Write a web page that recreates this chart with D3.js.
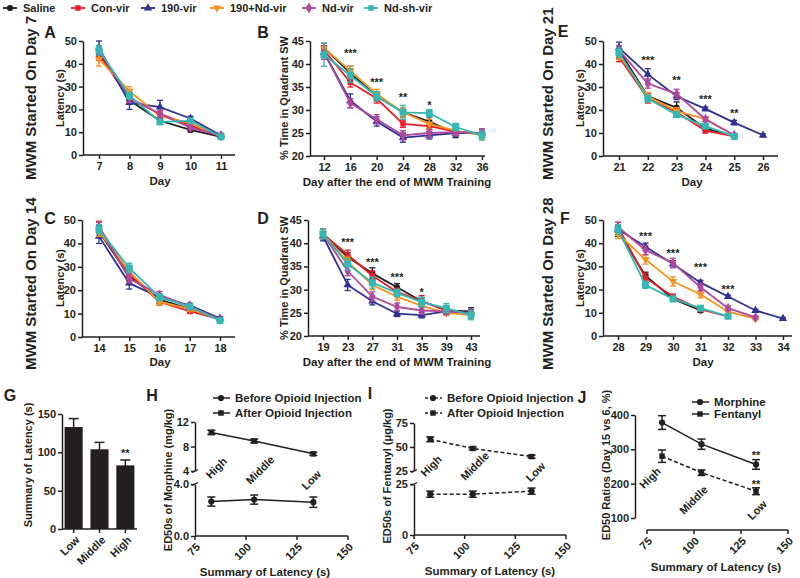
<!DOCTYPE html>
<html><head><meta charset="utf-8">
<script src="https://cdn.jsdelivr.net/npm/d3@7"></script>
<style>
body{margin:0;background:#fff;}
svg text{font-family:"Liberation Sans",Arial,Helvetica,sans-serif;font-weight:bold;fill:#231f20;}
</style></head><body><svg id="c" width="800" height="578"></svg>
<script>
// ---------- DATA ----------
const seriesNames = ["Saline","Con-vir","190-vir","190+Nd-vir","Nd-vir","Nd-sh-vir"];
const seriesColors = ["#231f20","#ed1c24","#2e3192","#f7941d","#b2469d","#33b8b3"];
const seriesShapes = ["circle","square","triangle","triangleDown","diamond","bigSquare"];

// Panel A : MWM started on day 7
const daysA = [7,8,9,10,11];
const latencyA = [[45,24,15,11,8],[44,25,18,13,8],[47,23,21,16,8.5],[42,28,17,14,8],[46,25,18,12,8.5],[46,26,14.5,15,8]];
const errA = [[2,1.5,1,0.8,0.6],[2.5,2,1.5,1,0.8],[3,3,3,1,1],[3,2,1.5,1,0.8],[2,2,1.5,1,0.8],[2,1.5,1,1,0.8]];
// Panel B
const daysB = [12,16,20,24,28,32,36];
const timeB = [[43.5,38,33,29.5,27.5,25,25],[43,36,32.5,27,26.5,25.3,24.8],[42.5,32,27.5,24,24.5,25,25],[43.5,38.5,33.5,29.5,27,25.5,24.5],[42.5,31.5,28,24.5,25,25.2,25],[42,37.5,33,29.5,29.3,26.3,24.5]];
const errB = [[1,1.5,1,1,1,1,0.8],[1,1,1,0.8,0.8,0.8,0.8],[1.5,1.5,1,1,0.8,0.8,0.8],[1,1,1,1,1,0.8,1],[1.5,1,1,1,0.8,0.8,0.8],[2.5,1.5,1,1.5,0.8,0.8,1]];
const starsB = [[16,"***",42.4],[20,"***",36],[24,"**",32.8],[28,"*",31]];
// Panel C : day 14
const daysC = [14,15,16,17,18];
const latencyC = [[45,26,16,12,7.5],[47,27,15,11,7.5],[43,23,17,13.5,8],[45,28,15,12,7.5],[47,25,18,13,7.5],[46,29.5,17,13,7]];
const errC = [[2,2,1.5,1,0.6],[2.5,2,1.5,1,0.6],[3,2.5,1.5,1,0.6],[2,2,1.5,1,0.6],[2,2,1.5,1,0.6],[2,2,1.5,1,0.6]];
// Panel D
const daysD = [19,23,27,31,35,39,43];
const timeD = [[42,37,33.5,30.5,27.5,25.5,25.3],[42,37.5,33,29.5,27.5,25.5,24.8],[41.5,31,27.5,24.8,24.5,25.3,25],[42,36,31,28.5,26.5,25,24.5],[42,34,28.5,26.3,25.5,25.3,25],[42,35.5,31.5,29.3,27.3,26,24.5]];
const errD = [[1,1,1.2,0.8,0.8,0.8,0.8],[1,1,1,0.8,1.2,0.8,0.8],[1,1.2,0.8,0.6,0.6,0.6,0.6],[1,1,1,0.8,0.8,0.6,0.8],[1,1,1,0.8,0.8,0.6,0.6],[1,1.2,1.2,0.8,1,1,1]];
const starsD = [[23,"***",40.3],[27,"***",36],[31,"***",32.7],[35,"*",29.5]];
// Panel E : day 21
const daysE = [21,22,23,24,25,26];
const latencyE = [[46,26,21,12,8.5,null],[43,25,19,11,8.5,null],[47,35.5,26,20.5,14.5,9],[44,26,19.5,16,9,null],[46,31.5,27,16,9,null],[45,25,18,13,8.5,null]];
const errE = [[2,1.5,2.5,1,0.8,0],[2,2,1.5,1,0.8,0],[2.5,2.5,1.5,0.8,1,0.6],[2,1.5,1.5,1,0.8,0],[2,2,2,1,0.8,0],[2,1.5,1,1,0.8,0]];
const starsE = [[22,"***",41.7],[23,"**",33],[24,"***",24.8],[25,"**",18.7]];
// Panel F : day 28
const daysF = [28,29,30,31,32,33,34];
const latencyF = [[45,26,16,11,null,null,null],[47,25,17,11.5,8.5,null,null],[46,38.5,31,23,17,11,7.5],[44,33,23.5,18,10.5,7.5,null],[47,37,31.5,21,12,8,null],[46,22,16,12,8.5,null,null]];
const errF = [[2,1.5,1,0.8,0,0,0],[2,2,1,1,0.8,0,0],[2,1.5,1.5,1,0.6,0.5,0.5],[2,2,2,1.5,1,0.6,0],[2,2,2,1.5,1,0.6,0],[2,1.5,1.2,1,0.8,0,0]];
const starsF = [[29,"***",43],[30,"***",35.8],[31,"***",29.7],[32,"***",20.3]];

// Panel G-J
const groupsG = ["Low","Middle","High"];
const summaryG = [133,104,83];
const summaryErrG = [11,9,7];
const groupsHIJ = ["High","Middle","Low"];
const latencyHIJ = [83,104,133];
const morphineBefore = [2.65,2.8,2.6], morphineBeforeErr = [0.35,0.35,0.4];
const morphineAfter = [10.3,8.9,6.8], morphineAfterErr = [0.35,0.3,0.25];
const fentanylBefore = [20,20,21.5], fentanylBeforeErr = [1.5,1.5,1.5];
const fentanylAfter = [58,48.5,40], fentanylAfterErr = [2.5,1.5,1.5];
const ratioMorphine = [378,315,256], ratioMorphineErr = [20,15,14];
const ratioFentanyl = [280,232,178], ratioFentanylErr = [18,8,10];
const xTicksHIJ = [75,100,125,150];

// ---------- DRAWING ----------
const svg = d3.select("#c");
const INK = "#231f20";

function styleAxis(g){
  g.selectAll("path,line").attr("stroke",INK).attr("stroke-width",1.5);
  g.selectAll("text").attr("font-size",11).attr("fill",INK);
}
function sym(shape){
  if(shape==="circle") return d3.symbol().type(d3.symbolCircle).size(30)();
  if(shape==="square") return d3.symbol().type(d3.symbolSquare).size(30)();
  if(shape==="bigSquare") return d3.symbol().type(d3.symbolSquare).size(48)();
  if(shape==="triangle"||shape==="triangleDown") return d3.symbol().type(d3.symbolTriangle).size(30)();
  if(shape==="diamond") return d3.symbol().type(d3.symbolDiamond).size(34)();
}
function marker(g,shape,cx,cy,color){
  g.append("path").attr("d",sym(shape))
   .attr("transform",`translate(${cx},${cy})`+(shape==="triangleDown"?" rotate(180)":""))
   .attr("fill",color);
}
function text(g,str,x,y,opts={}){
  const t=g.append("text").attr("x",x).attr("y",y).attr("dy","0.35em")
    .attr("font-size",opts.size||11).attr("text-anchor",opts.anchor||"middle").text(str);
  if(opts.rotate!=null) t.attr("transform",`rotate(${opts.rotate},${x},${y})`);
  return t;
}
function errBar(g,cx,y,v,e,color,cap=3,w=1.3){
  if(!e) return;
  g.append("line").attr("x1",cx).attr("x2",cx).attr("y1",y(v-e)).attr("y2",y(v+e)).attr("stroke",color).attr("stroke-width",w);
  [v-e,v+e].forEach(b=>g.append("line").attr("x1",cx-cap).attr("x2",cx+cap).attr("y1",y(b)).attr("y2",y(b)).attr("stroke",color).attr("stroke-width",w));
}

function linePanel(p){
  const x=d3.scaleLinear().domain([p.xTicks[0],p.xTicks[p.xTicks.length-1]]).range(p.xPix);
  const y=d3.scaleLinear().domain(p.yDom).range(p.yPix);
  const g=svg.append("g");
  const ya=g.append("g").attr("transform",`translate(${p.axX},0)`)
    .call(d3.axisLeft(y).tickValues(p.yTicks).tickSize(4).tickSizeOuter(0).tickPadding(2));
  styleAxis(ya);
  const xa=g.append("g").attr("transform",`translate(0,${p.yPix[0]})`)
    .call(d3.axisBottom(x).tickValues(p.xTicks).tickFormat(d3.format("d")).tickSize(4).tickSizeOuter(0).tickPadding(3));
  xa.select(".domain").remove();
  xa.append("line").attr("x1",p.axX).attr("x2",p.axEnd).attr("y1",0).attr("y2",0);
  styleAxis(xa);
  p.vals.forEach((vals,i)=>{
    const c=seriesColors[i];
    const pts=p.days.map((d,j)=>({d,v:vals[j],e:p.errs[i][j]})).filter(o=>o.v!=null);
    g.append("path").datum(pts).attr("fill","none").attr("stroke",c).attr("stroke-width",1.8)
      .attr("d",d3.line().x(o=>x(o.d)).y(o=>y(o.v)));
    pts.forEach(o=>errBar(g,x(o.d),y,o.v,o.e,c));
    pts.forEach(o=>marker(g,seriesShapes[i],x(o.d),y(o.v),c));
  });
  (p.stars||[]).forEach(s=>text(g,s[1],x(s[0]),y(s[2]),{size:11}));
  text(g,p.xTitle,p.xTitlePos[0],p.xTitlePos[1],{size:11.5});
  text(g,p.yTitle,p.yTitlePos[0],p.yTitlePos[1],{size:11,rotate:-90});
  text(g,p.letter,p.letterPos[0],p.letterPos[1],{size:16});
}

const latTicks=[0,10,20,30,40,50], pctTicks=[20,25,30,35,40,45];
linePanel({days:daysA,vals:latencyA,errs:errA,xTicks:daysA,xPix:[99,221],axX:83,axEnd:235,yDom:[0,50],yPix:[155,41],yTicks:latTicks,
  xTitle:"Day",xTitlePos:[160,181],yTitle:"Latency (s)",yTitlePos:[60,98],letter:"A",letterPos:[50,32]});
linePanel({days:daysB,vals:timeB,errs:errB,stars:starsB,xTicks:daysB,xPix:[324,482],axX:310,axEnd:485,yDom:[20,45],yPix:[156,41],yTicks:pctTicks,
  xTitle:"Day after the end of MWM Training",xTitlePos:[397,182],yTitle:"% Time in Quadrant SW",yTitlePos:[284,98],letter:"B",letterPos:[263,32]});
linePanel({days:daysE,vals:latencyE,errs:errE,stars:starsE,xTicks:daysE,xPix:[619,763],axX:603,axEnd:778,yDom:[0,50],yPix:[156,41],yTicks:latTicks,
  xTitle:"Day",xTitlePos:[692,182],yTitle:"Latency (s)",yTitlePos:[580,98],letter:"E",letterPos:[563,31]});
linePanel({days:daysC,vals:latencyC,errs:errC,xTicks:daysC,xPix:[99,220],axX:82,axEnd:235,yDom:[0,50],yPix:[337,220],yTicks:latTicks,
  xTitle:"Day",xTitlePos:[160,362],yTitle:"Latency (s)",yTitlePos:[60,278],letter:"C",letterPos:[50,218]});
linePanel({days:daysD,vals:timeD,errs:errD,stars:starsD,xTicks:daysD,xPix:[323,471],axX:308,axEnd:480,yDom:[20,45],yPix:[336,220],yTicks:pctTicks,
  xTitle:"Day after the end of MWM Training",xTitlePos:[397,362],yTitle:"% Time in Quadrant SW",yTitlePos:[284,278],letter:"D",letterPos:[263,218]});
linePanel({days:daysF,vals:latencyF,errs:errF,stars:starsF,xTicks:daysF,xPix:[618,783],axX:603,axEnd:792,yDom:[0,50],yPix:[336,220],yTicks:latTicks,
  xTitle:"Day",xTitlePos:[703,362],yTitle:"Latency (s)",yTitlePos:[580,278],letter:"F",letterPos:[565,218]});

// Row labels
[["MWM Started On Day 7",31,180],["MWM Started On Day 21",548,180],["MWM Started On Day 14",31,370],["MWM Started On Day 28",548,370]]
 .forEach(r=>text(svg,r[0],r[1],r[2],{size:15,anchor:"start",rotate:-90}));

// Top legend
const legX=[10,78,148,217,309,371];
seriesNames.forEach((n,i)=>{
  const c=seriesColors[i];
  svg.append("line").attr("x1",legX[i]-7).attr("x2",legX[i]+7).attr("y1",8).attr("y2",8).attr("stroke",c).attr("stroke-width",1.8);
  marker(svg,seriesShapes[i]==="bigSquare"?"square":seriesShapes[i],legX[i],8,c);
  text(svg,n,legX[i]+13,8,{anchor:"start",size:11});
});

// ---------- G ----------
{
  const g=svg.append("g");
  const x=d3.scaleBand().domain(groupsG).range([62,137]).paddingInner(0.3).paddingOuter(0.1);
  const y=d3.scaleLinear().domain([0,150]).range([529,414]);
  styleAxis(g.append("g").attr("transform","translate(62,0)").call(d3.axisLeft(y).tickValues([0,50,100,150]).tickSize(4).tickSizeOuter(0).tickPadding(2)));
  g.append("line").attr("x1",62).attr("x2",137).attr("y1",529).attr("y2",529).attr("stroke",INK).attr("stroke-width",1.5);
  groupsG.forEach((k,i)=>{
    const cx=x(k)+x.bandwidth()/2;
    errBar(g,cx,y,summaryG[i],summaryErrG[i],INK,5,1.5);
    g.append("rect").attr("x",x(k)).attr("width",x.bandwidth()).attr("y",y(summaryG[i])).attr("height",y(0)-y(summaryG[i])).attr("fill",INK);
    g.append("line").attr("x1",cx).attr("x2",cx).attr("y1",529).attr("y2",533).attr("stroke",INK).attr("stroke-width",1.5);
    text(g,k,cx+4,538,{anchor:"end",rotate:-45,size:11});
  });
  text(g,"**",x("High")+x.bandwidth()/2,y(99),{size:11});
  text(g,"Summary of Latency (s)",28,465,{rotate:-90,size:11});
  text(g,"G",10,395,{size:16});
}

// helpers for H/I/J
function xAxisRot(g,x,yPos,x0,x1){
  g.append("line").attr("x1",x0).attr("x2",x1).attr("y1",yPos).attr("y2",yPos).attr("stroke",INK).attr("stroke-width",1.5);
  xTicksHIJ.forEach(t=>{
    g.append("line").attr("x1",x(t)).attr("x2",x(t)).attr("y1",yPos).attr("y2",yPos+4).attr("stroke",INK).attr("stroke-width",1.5);
    text(g,t,x(t)+3,yPos+9,{anchor:"end",rotate:-45,size:11});
  });
}
function seriesXY(g,x,y,vals,errs,shape,dash){
  const pts=latencyHIJ.map((l,i)=>({l,v:vals[i],e:errs[i]}));
  g.append("path").datum(pts).attr("fill","none").attr("stroke",INK).attr("stroke-width",1.5)
    .attr("stroke-dasharray",dash?"4,2.5":null).attr("d",d3.line().x(o=>x(o.l)).y(o=>y(o.v)));
  pts.forEach(o=>{errBar(g,x(o.l),y,o.v,o.e,INK,4,1.5);marker(g,shape,x(o.l),y(o.v),INK);});
}
function legend2(g,x0,items,dash){
  items.forEach((it,i)=>{
    const yy=it[2];
    g.append("line").attr("x1",x0).attr("x2",x0+17).attr("y1",yy).attr("y2",yy).attr("stroke",INK).attr("stroke-width",1.5).attr("stroke-dasharray",dash?"3,2":null);
    marker(g,it[1],x0+8,yy,INK);
    text(g,it[0],x0+22,yy,{anchor:"start",size:11.5});
  });
}
function brokenY(g,axX,lowY,highY,lowTicks,highTicks){
  const a1=g.append("g").attr("transform",`translate(${axX},0)`).call(d3.axisLeft(lowY).tickValues(lowTicks).tickSize(4).tickSizeOuter(0).tickPadding(2));
  const a2=g.append("g").attr("transform",`translate(${axX},0)`).call(d3.axisLeft(highY).tickValues(highTicks).tickSize(4).tickSizeOuter(0).tickPadding(2));
  styleAxis(a1);styleAxis(a2);
  // break marks on the two axis segments
  const yb1=lowY.range()[1], yb2=highY.range()[0];
  [yb1,yb2].forEach(yb=>g.append("line").attr("x1",axX-3).attr("x2",axX+3).attr("y1",yb+1.5).attr("y2",yb-1.5).attr("stroke",INK).attr("stroke-width",1.3));
}

// ---------- H ----------
{
  const g=svg.append("g");
  const x=d3.scaleLinear().domain([75,150]).range([195,348]);
  const yLow=d3.scaleLinear().domain([0,4]).range([536,484]);
  const yHigh=d3.scaleLinear().domain([4,12]).range([471,422]);
  brokenY(g,195,yLow,yHigh,[0,4],[4,8,12]);
  xAxisRot(g,x,536,195,348);
  seriesXY(g,x,yLow,morphineBefore,morphineBeforeErr,"circle",false);
  seriesXY(g,x,yHigh,morphineAfter,morphineAfterErr,"square",false);
  const lab=[[5,468],[6,470],[-2,480]];
  groupsHIJ.forEach((k,i)=>text(g,k,x(latencyHIJ[i])+lab[i][0],lab[i][1],{rotate:-45,size:11}));
  legend2(g,213,[["Before Opioid Injection","circle",398],["After Opioid Injection","square",413]],false);
  text(g,"Summary of Latency (s)",265,572,{size:11.5});
  text(g,"ED50s of Morphine (mg/kg)",168,480,{rotate:-90,size:11});
  text(g,"H",152,395,{size:16});
}
// ---------- I ----------
{
  const g=svg.append("g");
  const x=d3.scaleLinear().domain([75,150]).range([414,566]);
  const yLow=d3.scaleLinear().domain([0,25]).range([535,484]);
  const yHigh=d3.scaleLinear().domain([25,75]).range([471,423]);
  brokenY(g,414,yLow,yHigh,[0,25],[25,50,75]);
  xAxisRot(g,x,535,414,566);
  seriesXY(g,x,yLow,fentanylBefore,fentanylBeforeErr,"circle",true);
  seriesXY(g,x,yHigh,fentanylAfter,fentanylAfterErr,"square",true);
  const lab=[[1,466],[2,466],[4,472]];
  groupsHIJ.forEach((k,i)=>text(g,k,x(latencyHIJ[i])+lab[i][0],lab[i][1],{rotate:-45,size:11}));
  legend2(g,425,[["Before Opioid Injection","circle",398],["After Opioid Injection","square",413]],true);
  text(g,"Summary of Latency (s)",490,571,{size:11.5});
  text(g,"ED50s of Fentanyl (\u03bcg/kg)",387,476,{rotate:-90,size:11});
  text(g,"I",370,393,{size:16});
}
// ---------- J ----------
{
  const g=svg.append("g");
  const x=d3.scaleLinear().domain([75,150]).range([647,788]);
  const y=d3.scaleLinear().domain([100,400]).range([518,415]);
  styleAxis(g.append("g").attr("transform","translate(635,0)").call(d3.axisLeft(y).tickValues([100,200,300,400]).tickSize(4).tickSizeOuter(0).tickPadding(2)));
  xAxisRot(g,x,530,647,788);
  seriesXY(g,x,y,ratioMorphine,ratioMorphineErr,"circle",false);
  seriesXY(g,x,y,ratioFentanyl,ratioFentanylErr,"square",true);
  text(g,"**",x(latencyHIJ[2]),y(ratioMorphine[2]+ratioMorphineErr[2]+12),{size:11});
  text(g,"**",x(latencyHIJ[2]),y(ratioFentanyl[2]+ratioFentanylErr[2]+12),{size:11});
  const lab=[[-12,478],[-8,500],[1,510]];
  groupsHIJ.forEach((k,i)=>text(g,k,x(latencyHIJ[i])+lab[i][0],lab[i][1],{rotate:-45,size:11}));
  legend2(g,692,[["Morphine","circle",402],["Fentanyl","square",414]],false);
  text(g,"Summary of Latency (s)",716,567,{size:11.5});
  text(g,"ED50 Ratios (Day 15 vs 6, %)",606,465,{rotate:-90,size:11});
  text(g,"J",582,397,{size:16});
}
</script></body></html>
